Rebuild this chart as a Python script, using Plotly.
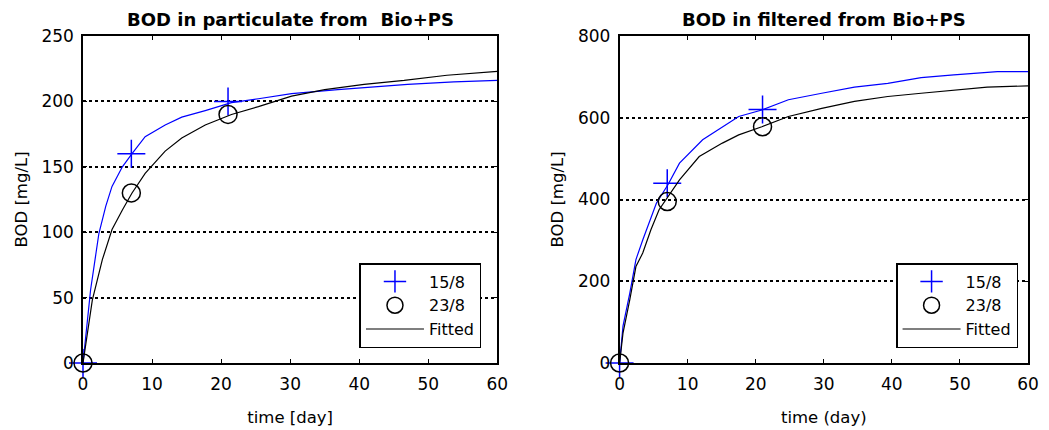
import plotly.graph_objects as go

# ---- data ----
# Left panel: BOD in particulate
meas_t = [0, 7, 21]
part_1508 = [0, 160, 200]
part_2308 = [0, 130, 190]

fit_t_part_blue = [0, 1.1, 2.3, 3.3, 4.2, 5.7, 7.1, 9.0, 11.9, 14.3, 17.7, 21.5, 25.4, 30.2, 36.9, 41.7, 47.0, 53.7, 60]
fit_v_part_blue = [0, 56, 99, 120, 135, 150, 160, 173, 182, 188, 193, 199, 202, 206, 209, 211, 213, 215, 216]
fit_t_part_black = [0, 0.6, 1.35, 2.8, 4.2, 5.7, 7.1, 9.0, 11.9, 14.3, 17.7, 21.5, 25.4, 30.2, 35.0, 40.7, 46.5, 52.7, 60]
fit_v_part_black = [0, 23, 48, 79, 102, 117, 130, 145, 162, 172, 182, 190, 196, 204, 209, 213, 216, 220, 223]

# Right panel: BOD in filtered
filt_1508 = [0, 440, 620]
filt_2308 = [0, 395, 578]

fit_t_filt = [0, 0.5, 1.5, 2.4, 3.4, 4.6, 5.4, 7.1, 8.8, 12.2, 15.1, 17.5, 20.9, 24.8, 29.7, 34.5, 39.4, 44.3, 49.1, 55.5, 60]
fit_v_filt_blue = [0, 90, 171, 253, 301, 358, 391, 436, 489, 546, 578, 603, 619, 644, 660, 675, 684, 698, 705, 713, 713]
fit_t_filt_black = [0, 0.5, 1.5, 2.4, 3.4, 4.6, 5.8, 7.1, 8.8, 11.7, 15.1, 17.5, 20.9, 24.8, 29.7, 34.5, 39.4, 44.3, 49.1, 54.0, 60]
fit_v_filt_black = [0, 73, 155, 236, 269, 326, 375, 407, 448, 505, 538, 558, 578, 603, 623, 640, 652, 660, 668, 675, 678]

x_ticks = [0, 10, 20, 30, 40, 50, 60]
y_ticks_left = [0, 50, 100, 150, 200, 250]
y_ticks_right = [0, 200, 400, 600, 800]

titles = ["BOD in particulate from  Bio+PS", "BOD in filtered from Bio+PS"]
xtitles = ["time [day]", "time (day)"]
ytitle = "BOD [mg/L]"
names = ["15/8", "23/8", "Fitted"]

BLUE = "#0000FF"
FONT = "DejaVu Sans, Verdana, sans-serif"

fig = go.Figure()

def add_panel(xa, ya, legend, fb_t, fb_v, fk_t, fk_v, m1, m2):
    fig.add_trace(go.Scatter(x=fb_t, y=fb_v, mode="lines", line=dict(color=BLUE, width=1.2),
                             xaxis=xa, yaxis=ya, showlegend=False, hoverinfo="skip"))
    fig.add_trace(go.Scatter(x=meas_t, y=m1, mode="markers", name=names[0],
                             marker=dict(symbol="cross-thin-open", size=20, color=BLUE,
                                         line=dict(color=BLUE, width=1.5)),
                             xaxis=xa, yaxis=ya, legend=legend, cliponaxis=False))
    fig.add_trace(go.Scatter(x=meas_t, y=m2, mode="markers", name=names[1],
                             marker=dict(symbol="circle-open", size=18, color="black",
                                         line=dict(color="black", width=1.5)),
                             xaxis=xa, yaxis=ya, legend=legend, cliponaxis=False))
    fig.add_trace(go.Scatter(x=fk_t, y=fk_v, mode="lines", name=names[2],
                             line=dict(color="black", width=1.2),
                             xaxis=xa, yaxis=ya, legend=legend, hoverinfo="skip"))

add_panel("x", "y", "legend", fit_t_part_blue, fit_v_part_blue, fit_t_part_black, fit_v_part_black,
          part_1508, part_2308)
add_panel("x2", "y2", "legend2", fit_t_filt, fit_v_filt_blue, fit_t_filt_black, fit_v_filt_black,
          filt_1508, filt_2308)

W, H = 1049, 430
L, R, T, B = 69, 29, 28, 75
pw = W - L - R
ph = H - T - B

def px_x(p):
    return (p - L) / pw

def px_y(p):
    return (H - B - p) / ph

axis_common = dict(showline=True, linecolor="black", linewidth=1.5, mirror="ticks",
                   ticks="inside", ticklen=4, tickwidth=1.2, tickcolor="black",
                   zeroline=False, tickfont=dict(size=17, color="black", family=FONT),
                   title_font=dict(size=16.5, color="black", family=FONT))

legend_common = dict(xanchor="right", y=px_y(340), yanchor="bottom",
                     bordercolor="black", borderwidth=1.5, bgcolor="white",
                     font=dict(size=16, family=FONT, color="black"), tracegroupgap=0,
                     itemwidth=58)

fig.update_layout(
    width=W, height=H,
    margin=dict(l=L, r=R, t=T, b=B),
    paper_bgcolor="white", plot_bgcolor="white",
    font=dict(family=FONT, color="black"),
    xaxis=dict(domain=[0, px_x(486)], range=[0, 60], tickvals=x_ticks, showgrid=False,
               title=dict(text=xtitles[0], standoff=18), ticklabelstandoff=5, anchor="y", **axis_common),
    yaxis=dict(domain=[0, 1], range=[0, 250], tickvals=y_ticks_left, showgrid=True,
               gridcolor="black", griddash="dot", gridwidth=1.5,
               title=dict(text=ytitle, standoff=10), ticklabelstandoff=4, anchor="x", **axis_common),
    xaxis2=dict(domain=[px_x(609), 1], range=[0, 60], tickvals=x_ticks, showgrid=False,
                title=dict(text=xtitles[1], standoff=18), ticklabelstandoff=5, anchor="y2", **axis_common),
    yaxis2=dict(domain=[0, 1], range=[0, 800], tickvals=y_ticks_right, showgrid=True,
                gridcolor="black", griddash="dot", gridwidth=1.5,
                title=dict(text=ytitle, standoff=10), ticklabelstandoff=4, anchor="x2", **axis_common),
    legend=dict(x=px_x(470), **legend_common),
    legend2=dict(x=px_x(1010), **legend_common),
    annotations=[
        dict(text="<b>" + titles[0] + "</b>", x=px_x((69 + 486) / 2), y=px_y(11), xref="paper",
             yref="paper", yanchor="middle", xanchor="center", showarrow=False,
             font=dict(size=18, family=FONT, color="black")),
        dict(text="<b>" + titles[1] + "</b>", x=px_x((609 + 1020) / 2), y=px_y(11), xref="paper",
             yref="paper", yanchor="middle", xanchor="center", showarrow=False,
             font=dict(size=18, family=FONT, color="black")),
    ],
)

fig.write_html("out.html")
